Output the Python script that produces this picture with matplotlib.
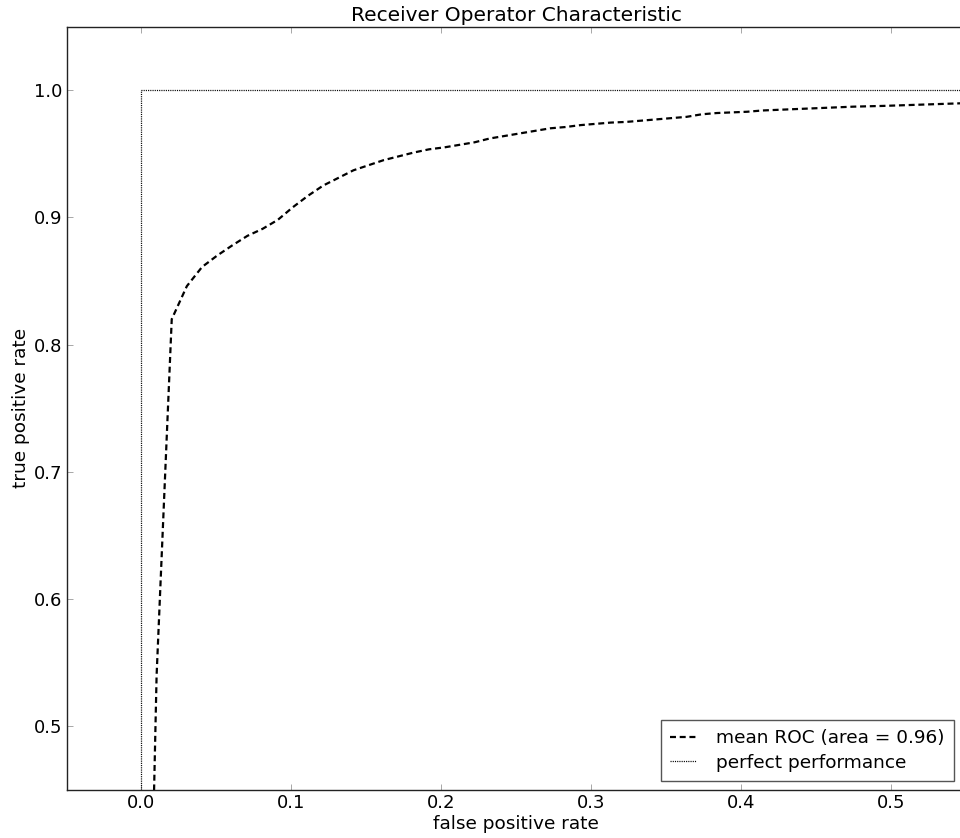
import matplotlib
matplotlib.use("Agg")
import matplotlib.pyplot as plt

# Mean ROC curve sampled on an even false-positive-rate grid
mean_fpr = [0.0000, 0.0101, 0.0202, 0.0303, 0.0404, 0.0505, 0.0606, 0.0707,
            0.0808, 0.0909, 0.1010, 0.1111, 0.1212, 0.1313, 0.1414, 0.1515,
            0.1616, 0.1717, 0.1818, 0.1919, 0.2020, 0.2121, 0.2222, 0.2323,
            0.2424, 0.2525, 0.2626, 0.2727, 0.2828, 0.2929, 0.3030, 0.3131,
            0.3232, 0.3333, 0.3434, 0.3535, 0.3636, 0.3737, 0.3838, 0.3939,
            0.4040, 0.4141, 0.4242, 0.4343, 0.4444, 0.4545, 0.4646, 0.4747,
            0.4848, 0.4949, 0.5051, 0.5152, 0.5253, 0.5354, 0.5455, 0.5556]
mean_tpr = [0.000, 0.540, 0.820, 0.846, 0.861, 0.870, 0.878, 0.8855,
            0.891, 0.898, 0.908, 0.917, 0.925, 0.931, 0.937, 0.941,
            0.945, 0.948, 0.951, 0.9535, 0.955, 0.957, 0.959, 0.962,
            0.964, 0.966, 0.968, 0.970, 0.971, 0.9725, 0.9735, 0.9745,
            0.975, 0.976, 0.977, 0.978, 0.979, 0.981, 0.982, 0.9825,
            0.983, 0.984, 0.9845, 0.985, 0.9855, 0.986, 0.9865, 0.987,
            0.9873, 0.9876, 0.988, 0.9884, 0.9888, 0.9892, 0.9896, 0.990]
mean_auc = 0.96

# Ideal classifier
perfect_fpr = [0.0, 0.0, 1.0]
perfect_tpr = [0.0, 1.0, 1.0]

x_ticks = [0.0, 0.1, 0.2, 0.3, 0.4, 0.5]
y_ticks = [0.5, 0.6, 0.7, 0.8, 0.9, 1.0]

TICK_FS = 13
LABEL_FS = 13.3
TITLE_FS = 14.5
plt.rcParams["font.family"] = ["DejaVu Sans"]
plt.rcParams["lines.scale_dashes"] = False

fig = plt.figure(figsize=(9.6, 8.38), dpi=100)
ax = fig.add_axes([66.5 / 960, 48 / 838, (966 - 66.5) / 960, (790 - 26.5) / 838])

ax.plot(mean_fpr, mean_tpr, color="k", lw=1.6, linestyle=(0, (4.3, 2.7)),
        label="mean ROC (area = %0.2f)" % mean_auc)
ax.plot(perfect_fpr, perfect_tpr, color="k", lw=0.9, linestyle=(0, (0.8, 0.8)),
        label="perfect performance")

ax.set_xlim(-0.05, 0.55)
ax.set_ylim(0.45, 1.05)
ax.set_xticks(x_ticks)
ax.set_yticks(y_ticks)
ax.tick_params(direction="in", length=4, width=0.6, color="#999999",
               top=True, right=True, labelsize=TICK_FS, pad=3)
for s in ax.spines.values():
    s.set_color("#222222")
    s.set_linewidth(1.0)

ax.set_xlabel("false positive rate", fontsize=LABEL_FS, labelpad=2)
ax.set_ylabel("true positive rate", fontsize=LABEL_FS, labelpad=3)
ax.set_title("Receiver Operator Characteristic", fontsize=TITLE_FS, pad=4)

leg = ax.legend(loc="lower right", fontsize=LABEL_FS, handlelength=1.4,
                fancybox=False, framealpha=1, edgecolor="#555555",
                borderaxespad=0, borderpad=0.5, labelspacing=0.35,
                handletextpad=1.1, bbox_to_anchor=(0.9867, 0.0118))
leg.get_frame().set_linewidth(1.0)

fig.savefig("out.png", dpi=100)
